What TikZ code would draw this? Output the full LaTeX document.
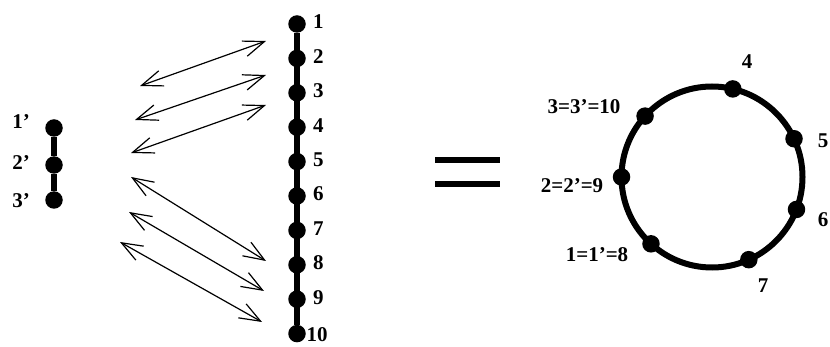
\documentclass[tikz,border=0pt]{standalone}
\usepackage{fontspec}
\setmainfont{Liberation Serif}
\usetikzlibrary{arrows.meta,calc,positioning}

\begin{document}
\begin{tikzpicture}[
    x=1pt, y=-1pt,
    dot/.style={circle, fill=black, inner sep=0pt, minimum size=17.5pt},
    lab/.style={inner sep=0pt, font=\fontsize{21}{21}\selectfont\bfseries},
    stick/.style={line width=6pt},
    swap/.style={{Straight Barb[length=21pt,width=16pt]}-{Straight Barb[length=21pt,width=16pt]}, line width=1.2pt},
]
\useasboundingbox (0,0) rectangle (830,347);

% Short path 1'-2'-3'
\node[dot] (p1) at (54,128) {};
\node[dot] (p2) at (54,165) {};
\node[dot] (p3) at (54,200) {};
\draw[stick] (p1) -- (p2) -- (p3);
\node[lab] (lp1) at (21,122) {1'};
\node[lab] (lp2) at (21,163) {2'};
\node[lab] (lp3) at (21,201) {3'};

% Long path 1..10
\foreach \i in {1,...,10} {
  \node[dot] (c\i) at (297,{24+34.4*(\i-1)}) {};
}
\draw[stick] (c1) -- (c10);
\foreach \i in {1,...,9} {
  \node[lab, anchor=west] (lc\i) at ($(c\i)+(16,-2)$) {\i};
}
\node[lab] (lc10) at (317,335) {10};

% Identifications
\coordinate (a1) at (140,86);  \coordinate (b1) at (266,41);
\coordinate (a2) at (135,120); \coordinate (b2) at (266,75);
\coordinate (a3) at (131,153); \coordinate (b3) at (266,105);
\coordinate (a4) at (131,177); \coordinate (b4) at (266,261);
\coordinate (a5) at (129,212); \coordinate (b5) at (264,291);
\coordinate (a6) at (120,242); \coordinate (b6) at (262,322);
\foreach \i in {1,...,6} {
  \draw[swap] (a\i) -- (b\i);
}

% Equals sign
\draw[line width=6pt] (435,160) -- (500,160);
\draw[line width=6pt] (435,184) -- (500,184);

% Resulting cycle
\coordinate (ring) at (712,177);
\draw[line width=6pt] (ring) circle[radius=90.5pt];
\node[dot] (r4) at ($(ring)+(76.7:90.5pt)$) {};
\node[dot] (r5) at ($(ring)+(25:90.5pt)$) {};
\node[dot] (r6) at ($(ring)+(-21:90.5pt)$) {};
\node[dot] (r7) at ($(ring)+(-66:90.5pt)$) {};
\node[dot] (r8) at ($(ring)+(227.6:90.5pt)$) {};
\node[dot] (r9) at ($(ring)+(180:90.5pt)$) {};
\node[dot] (r10) at ($(ring)+(137.7:90.5pt)$) {};
\node[lab] (lr4) at (747,62) {4};
\node[lab] (lr5) at (823,141) {5};
\node[lab] (lr6) at (823,220) {6};
\node[lab] (lr7) at (763,286) {7};
\node[lab] (lr8) at (597,255) {1=1'=8};
\node[lab] (lr9) at (572,186) {2=2'=9};
\node[lab] (lr10) at (584,107) {3=3'=10};

\end{tikzpicture}
\end{document}
